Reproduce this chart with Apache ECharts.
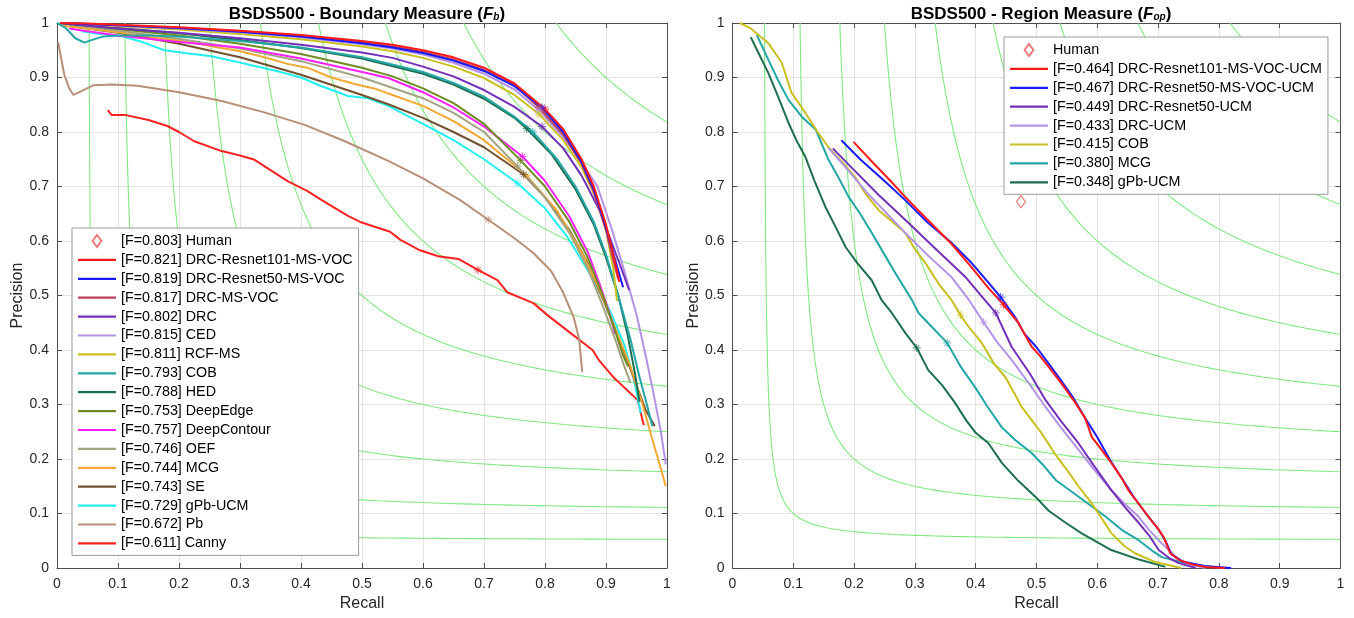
<!DOCTYPE html>
<html>
<head>
<meta charset="utf-8">
<script src="https://cdn.jsdelivr.net/npm/echarts@6/dist/echarts.min.js"></script>
<style>
html,body{margin:0;padding:0;background:#fff;}
#chart{width:1354px;height:618px;}
</style>
</head>
<body>
<div id="chart"></div>
<script>
// ---------------- DATA ----------------
const tickLabels = ['0','0.1','0.2','0.3','0.4','0.5','0.6','0.7','0.8','0.9','1'];
const isoFLevels = [0.1,0.2,0.3,0.4,0.5,0.6,0.7,0.8,0.9];

// Left: Boundary measure
const leftMethods = ['DRC-Resnet101-MS-VOC','DRC-Resnet50-MS-VOC','DRC-MS-VOC','DRC','CED','RCF-MS','COB','HED','DeepEdge','DeepContour','OEF','MCG','SE','gPb-UCM','Pb','Canny'];
const leftF = [0.821,0.819,0.817,0.802,0.815,0.811,0.793,0.788,0.753,0.757,0.746,0.744,0.743,0.729,0.672,0.611];
const leftHumanF = 0.803;
const leftHuman = [];
const leftColors = ['#ff1a1a','#1a1aff','#b8405e','#7330b8','#b493e6','#c9c020','#22a6a6','#1e6e50','#6e8c22','#ff22ff','#a3a382','#f2a833','#72522f','#22f0f0','#b89078','#ff2222'];

const L_drc101 = [[0.005,1.0],[0.05,0.999],[0.1,0.997],[0.2,0.992],[0.3,0.986],[0.4,0.978],[0.5,0.967],[0.55,0.96],[0.6,0.95],[0.65,0.937],[0.7,0.918],[0.75,0.889],[0.8,0.842],[0.83,0.805],[0.86,0.75],[0.88,0.70],[0.9,0.63],[0.912,0.575],[0.922,0.525]];
const L_drc50 = [[0.005,1.0],[0.05,0.998],[0.1,0.996],[0.2,0.991],[0.3,0.984],[0.4,0.975],[0.5,0.963],[0.55,0.955],[0.6,0.945],[0.65,0.931],[0.7,0.912],[0.75,0.884],[0.795,0.845],[0.83,0.80],[0.86,0.745],[0.88,0.695],[0.9,0.625],[0.915,0.565],[0.928,0.515]];
const L_drcms = [[0.005,1.0],[0.05,0.998],[0.1,0.996],[0.2,0.991],[0.3,0.985],[0.4,0.976],[0.5,0.965],[0.55,0.957],[0.6,0.947],[0.65,0.933],[0.7,0.914],[0.75,0.886],[0.79,0.845],[0.83,0.795],[0.86,0.742],[0.88,0.69],[0.9,0.62],[0.912,0.565],[0.92,0.53]];
const L_drc = [[0.005,1.0],[0.05,0.995],[0.1,0.99],[0.2,0.982],[0.3,0.972],[0.4,0.96],[0.5,0.946],[0.55,0.936],[0.6,0.92],[0.65,0.902],[0.7,0.877],[0.75,0.846],[0.795,0.81],[0.83,0.77],[0.86,0.72],[0.89,0.655],[0.91,0.595],[0.925,0.55],[0.938,0.51]];
const L_ced = [[0.005,1.0],[0.05,0.998],[0.1,0.995],[0.2,0.99],[0.3,0.983],[0.4,0.974],[0.5,0.961],[0.55,0.953],[0.6,0.942],[0.65,0.927],[0.7,0.907],[0.75,0.878],[0.79,0.84],[0.83,0.79],[0.86,0.745],[0.886,0.7],[0.91,0.62],[0.93,0.545],[0.95,0.465],[0.965,0.39],[0.978,0.32],[0.99,0.25],[0.998,0.19]];
const L_rcf = [[0.005,1.0],[0.05,0.997],[0.1,0.994],[0.2,0.988],[0.3,0.98],[0.4,0.97],[0.5,0.957],[0.55,0.948],[0.6,0.936],[0.65,0.92],[0.7,0.899],[0.75,0.868],[0.79,0.833],[0.83,0.785],[0.86,0.735],[0.885,0.675],[0.9,0.62],[0.912,0.55],[0.918,0.49]];
const L_cob = [[0.0,1.0],[0.015,0.99],[0.03,0.972],[0.045,0.964],[0.06,0.97],[0.075,0.975],[0.1,0.977],[0.15,0.977],[0.2,0.975],[0.3,0.967],[0.4,0.955],[0.5,0.937],[0.6,0.91],[0.65,0.89],[0.7,0.865],[0.75,0.828],[0.78,0.8],[0.82,0.75],[0.85,0.7],[0.88,0.635],[0.9,0.575],[0.92,0.5],[0.94,0.42],[0.955,0.35],[0.967,0.3],[0.976,0.26]];
const L_hed = [[0.005,1.0],[0.05,0.996],[0.1,0.991],[0.2,0.981],[0.3,0.969],[0.4,0.954],[0.5,0.935],[0.6,0.907],[0.65,0.887],[0.7,0.861],[0.75,0.826],[0.77,0.806],[0.81,0.76],[0.85,0.695],[0.88,0.63],[0.9,0.57],[0.92,0.5],[0.935,0.43],[0.947,0.36],[0.955,0.305]];
const L_deepedge = [[0.005,1.0],[0.05,0.995],[0.1,0.989],[0.2,0.977],[0.3,0.962],[0.4,0.943],[0.5,0.918],[0.55,0.902],[0.6,0.88],[0.65,0.853],[0.7,0.815],[0.76,0.748],[0.8,0.7],[0.84,0.635],[0.87,0.57],[0.895,0.5],[0.915,0.435],[0.928,0.39],[0.936,0.37]];
const L_deepcontour = [[0.02,0.99],[0.05,0.985],[0.1,0.977],[0.2,0.965],[0.3,0.955],[0.4,0.935],[0.5,0.91],[0.543,0.899],[0.6,0.873],[0.65,0.845],[0.7,0.81],[0.763,0.755],[0.8,0.71],[0.84,0.645],[0.87,0.58],[0.89,0.52],[0.905,0.47],[0.915,0.43]];
const L_oef = [[0.005,1.0],[0.05,0.993],[0.1,0.986],[0.2,0.971],[0.3,0.953],[0.4,0.93],[0.5,0.9],[0.6,0.862],[0.65,0.835],[0.7,0.8],[0.755,0.737],[0.8,0.68],[0.84,0.615],[0.87,0.55],[0.895,0.48],[0.915,0.42],[0.93,0.37],[0.94,0.34]];
const L_mcg = [[0.01,0.995],[0.05,0.99],[0.1,0.983],[0.2,0.968],[0.3,0.948],[0.34,0.937],[0.378,0.925],[0.41,0.918],[0.45,0.9],[0.488,0.888],[0.52,0.88],[0.55,0.868],[0.6,0.848],[0.65,0.82],[0.7,0.785],[0.77,0.72],[0.82,0.655],[0.86,0.58],[0.89,0.51],[0.915,0.44],[0.94,0.37],[0.96,0.3],[0.975,0.24],[0.988,0.19],[0.998,0.15]];
const L_se = [[0.02,0.995],[0.05,0.99],[0.1,0.982],[0.2,0.962],[0.3,0.937],[0.4,0.905],[0.5,0.868],[0.543,0.851],[0.6,0.826],[0.65,0.8],[0.7,0.772],[0.765,0.722],[0.8,0.68],[0.84,0.62],[0.87,0.56],[0.9,0.48],[0.925,0.41],[0.945,0.35],[0.965,0.29],[0.98,0.26]];
const L_gpb = [[0.04,0.985],[0.07,0.98],[0.105,0.976],[0.14,0.965],[0.176,0.95],[0.21,0.945],[0.253,0.939],[0.29,0.93],[0.324,0.921],[0.36,0.912],[0.4,0.9],[0.434,0.884],[0.477,0.866],[0.51,0.862],[0.543,0.848],[0.6,0.815],[0.65,0.785],[0.7,0.75],[0.755,0.706],[0.8,0.66],[0.837,0.607],[0.88,0.528],[0.908,0.468],[0.93,0.41],[0.945,0.35],[0.957,0.284]];
const L_pb = [[0.002,0.965],[0.006,0.94],[0.012,0.905],[0.02,0.88],[0.027,0.868],[0.04,0.875],[0.06,0.886],[0.09,0.887],[0.132,0.885],[0.2,0.873],[0.27,0.857],[0.34,0.836],[0.406,0.813],[0.47,0.784],[0.543,0.747],[0.6,0.715],[0.661,0.675],[0.707,0.639],[0.75,0.605],[0.781,0.578],[0.81,0.545],[0.83,0.505],[0.847,0.46],[0.856,0.42],[0.861,0.36]];
const L_canny = [[0.083,0.84],[0.09,0.831],[0.113,0.831],[0.15,0.822],[0.181,0.811],[0.2,0.8],[0.225,0.783],[0.27,0.765],[0.3,0.757],[0.324,0.749],[0.35,0.73],[0.378,0.71],[0.41,0.692],[0.434,0.675],[0.477,0.646],[0.497,0.635],[0.546,0.617],[0.563,0.602],[0.595,0.583],[0.625,0.572],[0.658,0.567],[0.69,0.547],[0.722,0.528],[0.738,0.506],[0.781,0.486],[0.804,0.464],[0.842,0.431],[0.878,0.4],[0.888,0.382],[0.913,0.349],[0.952,0.308],[0.962,0.262]];
const leftCurves = [L_drc101,L_drc50,L_drcms,L_drc,L_ced,L_rcf,L_cob,L_hed,L_deepedge,L_deepcontour,L_oef,L_mcg,L_se,L_gpb,L_pb,L_canny];
const leftODS = [[0.8,0.842],[0.795,0.845],[0.79,0.845],[0.795,0.81],[0.79,0.84],[0.79,0.833],[0.78,0.8],[0.77,0.806],[0.76,0.748],[0.763,0.755],[0.755,0.737],[0.77,0.72],[0.765,0.722],[0.755,0.706],[0.707,0.639],[0.69,0.547]];

// Right: Region measure
const rightMethods = ['DRC-Resnet101-MS-VOC-UCM','DRC-Resnet50-MS-VOC-UCM','DRC-Resnet50-UCM','DRC-UCM','COB','MCG','gPb-UCM'];
const rightF = [0.464,0.467,0.449,0.433,0.415,0.380,0.348];
const rightColors = ['#ff1a1a','#1a1aff','#7330b8','#b493e6','#c9c020','#22a6a6','#1e6e50'];
const rightHuman = [[0.4745,0.672]];

const R_drc101 = [[0.199,0.782],[0.23,0.745],[0.26,0.71],[0.284,0.681],[0.32,0.64],[0.36,0.595],[0.393,0.552],[0.42,0.515],[0.446,0.483],[0.47,0.45],[0.492,0.406],[0.505,0.39],[0.52,0.369],[0.54,0.34],[0.564,0.303],[0.58,0.275],[0.591,0.24],[0.605,0.22],[0.623,0.193],[0.64,0.165],[0.651,0.143],[0.668,0.118],[0.684,0.094],[0.698,0.075],[0.709,0.057],[0.72,0.027],[0.734,0.015],[0.755,0.007],[0.778,0.002],[0.81,0.0]];
const R_drc50 = [[0.179,0.785],[0.21,0.75],[0.25,0.71],[0.284,0.675],[0.32,0.635],[0.36,0.597],[0.393,0.56],[0.42,0.525],[0.441,0.497],[0.465,0.46],[0.48,0.43],[0.5,0.405],[0.52,0.375],[0.54,0.345],[0.56,0.313],[0.58,0.275],[0.6,0.24],[0.62,0.2],[0.64,0.165],[0.66,0.13],[0.68,0.1],[0.7,0.072],[0.712,0.05],[0.722,0.025],[0.74,0.012],[0.78,0.003],[0.82,0.0]];
const R_drc50ucm = [[0.165,0.77],[0.2,0.73],[0.24,0.685],[0.284,0.639],[0.33,0.59],[0.383,0.534],[0.405,0.505],[0.433,0.468],[0.459,0.406],[0.49,0.355],[0.515,0.308],[0.54,0.27],[0.569,0.229],[0.595,0.187],[0.623,0.143],[0.645,0.112],[0.668,0.083],[0.685,0.06],[0.701,0.033],[0.72,0.017],[0.734,0.009],[0.762,0.0]];
const R_drcucm = [[0.158,0.771],[0.19,0.73],[0.22,0.69],[0.25,0.655],[0.284,0.615],[0.32,0.575],[0.36,0.534],[0.39,0.49],[0.413,0.451],[0.435,0.415],[0.459,0.382],[0.49,0.335],[0.515,0.295],[0.54,0.258],[0.569,0.217],[0.595,0.18],[0.623,0.143],[0.645,0.118],[0.668,0.094],[0.685,0.07],[0.701,0.051],[0.72,0.03],[0.734,0.015],[0.755,0.006],[0.778,0.0]];
const R_cob = [[0.012,1.0],[0.03,0.99],[0.059,0.963],[0.07,0.945],[0.081,0.927],[0.097,0.872],[0.12,0.835],[0.14,0.8],[0.158,0.772],[0.18,0.745],[0.202,0.717],[0.218,0.688],[0.24,0.657],[0.26,0.638],[0.284,0.615],[0.3,0.585],[0.317,0.56],[0.34,0.52],[0.36,0.492],[0.375,0.464],[0.39,0.44],[0.41,0.413],[0.43,0.375],[0.449,0.35],[0.476,0.295],[0.508,0.248],[0.53,0.21],[0.55,0.18],[0.569,0.15],[0.59,0.12],[0.605,0.095],[0.623,0.064],[0.645,0.04],[0.662,0.027],[0.695,0.011],[0.738,0.0]];
const R_mcg = [[0.04,0.978],[0.06,0.93],[0.075,0.895],[0.092,0.859],[0.114,0.828],[0.137,0.804],[0.158,0.749],[0.175,0.715],[0.191,0.681],[0.21,0.65],[0.229,0.615],[0.25,0.575],[0.268,0.541],[0.295,0.492],[0.306,0.468],[0.33,0.44],[0.353,0.413],[0.375,0.37],[0.4,0.33],[0.42,0.295],[0.443,0.258],[0.465,0.235],[0.492,0.211],[0.51,0.19],[0.532,0.161],[0.558,0.14],[0.58,0.122],[0.613,0.095],[0.64,0.07],[0.668,0.051],[0.69,0.032],[0.706,0.02],[0.745,0.009],[0.78,0.003],[0.81,0.0]];
const R_gpb = [[0.03,0.974],[0.045,0.94],[0.059,0.908],[0.075,0.865],[0.092,0.817],[0.105,0.785],[0.12,0.754],[0.135,0.71],[0.153,0.662],[0.17,0.625],[0.186,0.589],[0.205,0.56],[0.229,0.528],[0.245,0.492],[0.262,0.468],[0.285,0.43],[0.303,0.404],[0.322,0.363],[0.345,0.335],[0.366,0.303],[0.385,0.27],[0.4,0.248],[0.421,0.229],[0.443,0.193],[0.47,0.16],[0.499,0.13],[0.52,0.105],[0.548,0.083],[0.575,0.063],[0.602,0.046],[0.623,0.033],[0.67,0.015],[0.712,0.002]];
const rightCurves = [R_drc101,R_drc50,R_drc50ucm,R_drcucm,R_cob,R_mcg,R_gpb];
const rightODS = [[0.446,0.483],[0.441,0.497],[0.433,0.468],[0.413,0.451],[0.375,0.464],[0.353,0.413],[0.303,0.404]];

// ---------------- CHART ----------------
const FONT = '"Liberation Sans", Arial, Helvetica, sans-serif';
const TXT = '#262626';
const ISO_COLOR = '#80e880';
const ASTERISK = 'path://M5,0L5,10M0,5L10,5M1.5,1.5L8.5,8.5M8.5,1.5L1.5,8.5';
const LINE_ICON = 'path://M0,0L38,0L38,2.2L0,2.2Z';
const DIAMOND_ICON = 'path://M4,0L8,5.5L4,11L0,5.5Z';

function isoCurve(F) {
  const pts = [];
  const u0 = F * F / (2 - F), u1 = 2 - F, n = 200;
  for (let i = 0; i <= n; i++) {
    const u = u0 * Math.pow(u1 / u0, i / n);
    pts.push([(u + F) / 2, F * (u + F) / (2 * u)]);
  }
  return pts;
}

function axesFor(gi) {
  const base = {
    gridIndex: gi, type: 'value', min: 0, max: 1, interval: 0.1,
    axisLine: { show: true, onZero: false, lineStyle: { color: '#4d4d4d', width: 1 } },
    axisTick: { show: true, inside: true, length: 5, lineStyle: { color: '#4d4d4d' } },
  };
  const xMain = Object.assign({}, base, {
    position: 'bottom', name: 'Recall', nameLocation: 'middle', nameGap: 27,
    nameTextStyle: { fontFamily: FONT, fontSize: 16, color: TXT },
    axisLabel: { fontFamily: FONT, fontSize: 14, color: TXT, margin: 9, formatter: v => tickLabels[Math.round(v*10)] },
    splitLine: { show: true, lineStyle: { color: '#e3e3e3', width: 1 } }
  });
  const xTop = Object.assign({}, base, { position: 'top', axisLabel: { show: false }, splitLine: { show: false } });
  const yMain = Object.assign({}, base, {
    position: 'left', name: 'Precision', nameLocation: 'middle', nameGap: 31, nameRotate: 90,
    nameTextStyle: { fontFamily: FONT, fontSize: 16, color: TXT },
    axisLabel: { fontFamily: FONT, fontSize: 14, color: TXT, margin: 8, formatter: v => tickLabels[Math.round(v*10)] },
    splitLine: { show: true, lineStyle: { color: '#e3e3e3', width: 1 } }
  });
  const yRight = Object.assign({}, base, { position: 'right', axisLabel: { show: false }, splitLine: { show: false } });
  return { x: [xMain, xTop], y: [yMain, yRight] };
}

const a0 = axesFor(0), a1 = axesFor(1);
const xAxis = [a0.x[0], a0.x[1], a1.x[0], a1.x[1]];
const yAxis = [a0.y[0], a0.y[1], a1.y[0], a1.y[1]];

const series = [];
[0, 1].forEach(gi => {
  isoFLevels.forEach(F => {
    series.push({
      type: 'line', xAxisIndex: gi * 2, yAxisIndex: gi * 2, data: isoCurve(F),
      symbol: 'none', silent: true, z: 1, clip: true,
      lineStyle: { color: ISO_COLOR, width: 1.1 }
    });
  });
});

const leftNames = leftMethods.map((m, i) => '[F=' + leftF[i].toFixed(3) + '] ' + m);
const rightNames = rightMethods.map((m, i) => '[F=' + rightF[i].toFixed(3) + '] ' + m);
const leftHumanName = '[F=' + leftHumanF.toFixed(3) + '] Human';
const rightHumanName = 'Human';

function humanSeries(name, data, gi) {
  return {
    name: name, type: 'scatter', xAxisIndex: gi * 2, yAxisIndex: gi * 2, data: data,
    symbol: 'diamond', symbolSize: [9, 12], z: 4,
    itemStyle: { color: '#ffffff', borderColor: '#e85a5a', borderWidth: 1.2 }
  };
}
series.push(humanSeries(leftHumanName, leftHuman, 0));
series.push(humanSeries(rightHumanName, rightHuman, 1));

for (let i = leftCurves.length - 1; i >= 0; i--) {
  series.push({
    name: leftNames[i], type: 'line', xAxisIndex: 0, yAxisIndex: 0, data: leftCurves[i],
    symbol: 'none', z: 3, clip: true, color: leftColors[i],
    lineStyle: { color: leftColors[i], width: 2 }
  });
}
for (let i = rightCurves.length - 1; i >= 0; i--) {
  series.push({
    name: rightNames[i], type: 'line', xAxisIndex: 2, yAxisIndex: 2, data: rightCurves[i],
    symbol: 'none', z: 3, clip: true, color: rightColors[i],
    lineStyle: { color: rightColors[i], width: 2 }
  });
}
function odsSeries(points, colors, gi) {
  return {
    type: 'scatter', xAxisIndex: gi * 2, yAxisIndex: gi * 2, silent: true, z: 5,
    symbol: ASTERISK, symbolSize: 8,
    data: points.map((p, i) => ({ value: p, itemStyle: { borderColor: colors[i] } })),
    itemStyle: { color: 'rgba(0,0,0,0)', borderWidth: 1, opacity: 0.8 }
  };
}
series.push(odsSeries(leftODS, leftColors, 0));
series.push(odsSeries(rightODS, rightColors, 1));

const legendCommon = {
  orient: 'vertical', itemWidth: 38, itemHeight: 12, itemGap: 4.9, symbolKeepAspect: true,
  backgroundColor: '#ffffff', borderColor: '#9a9a9a', borderWidth: 1,
  padding: [6, 6, 5, 6], selectedMode: false,
  textStyle: { fontFamily: FONT, fontSize: 14.3, color: '#000', lineHeight: 14 }
};
function legendData(humanName, names) {
  return [{ name: humanName, icon: DIAMOND_ICON }].concat(names.map(n => ({ name: n, icon: LINE_ICON })));
}

const titleRich = {
  a: { fontFamily: FONT, fontSize: 17, fontWeight: 'bold', color: '#000' },
  f: { fontFamily: FONT, fontSize: 17, fontWeight: 'bold', fontStyle: 'italic', color: '#000' },
  s: { fontFamily: FONT, fontSize: 10, fontWeight: 'bold', fontStyle: 'italic', color: '#000', padding: [6, 0, 0, 0] }
};

const option = {
  animation: false,
  backgroundColor: '#ffffff',
  title: [
    { text: '{a|BSDS500 - Boundary Measure (}{f|F}{s|b}{a|)}', left: 362, top: 1, textAlign: 'center', textStyle: { rich: titleRich } },
    { text: '{a|BSDS500 - Region Measure (}{f|F}{s|op}{a|)}', left: 1036, top: 1, textAlign: 'center', textStyle: { rich: titleRich } }
  ],
  grid: [
    { left: 57, right: 687, top: 23, bottom: 50 },
    { left: 732.5, right: 13.5, top: 23, bottom: 50 }
  ],
  xAxis: xAxis,
  yAxis: yAxis,
  legend: [
    Object.assign({}, legendCommon, { left: 72, top: 228, data: legendData(leftHumanName, leftNames) }),
    Object.assign({}, legendCommon, { left: 1004, top: 37, data: legendData(rightHumanName, rightNames) })
  ],
  series: series
};

const chart = echarts.init(document.getElementById('chart'), null, { renderer: 'canvas' });
chart.setOption(option);
</script>
</body>
</html>
